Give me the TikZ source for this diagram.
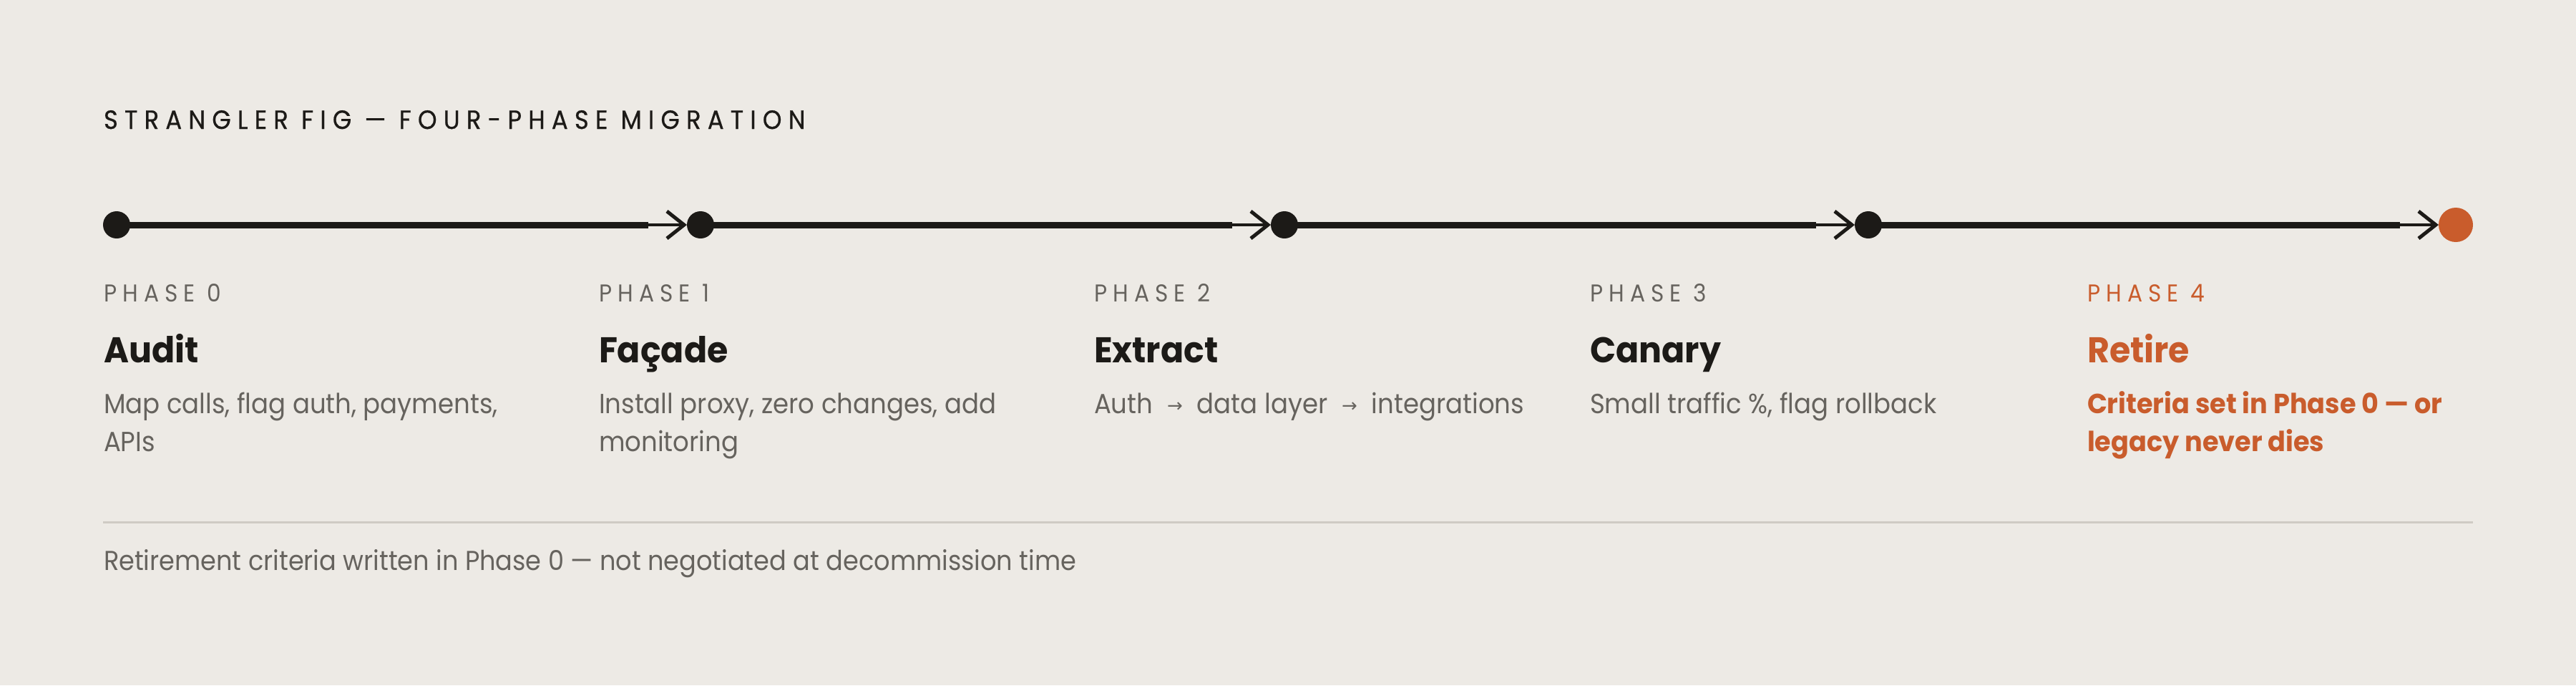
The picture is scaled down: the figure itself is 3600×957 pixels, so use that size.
\documentclass[tikz,border=0pt]{standalone}
\usepackage{fontspec}
\setmainfont{Poppins}[FakeStretch=0.92, BoldFeatures={FakeStretch=0.95}]
\newfontfamily\capsfont{Poppins}[FakeStretch=0.92, LetterSpace=24]
\newfontfamily\titlefont{Poppins}[FakeStretch=0.92, LetterSpace=25, FakeBold=0.6]
\newfontfamily\symfont{DejaVu Sans}
\usetikzlibrary{arrows.meta}
\definecolor{bg}{HTML}{EDEAE5}
\definecolor{ink}{HTML}{1C1A17}
\definecolor{muted}{HTML}{66635E}
\definecolor{accent}{HTML}{C95C2C}
\definecolor{rulec}{HTML}{CFCBC4}
\newcommand{\smallarrow}{\kern2.6pt{\symfont\fontsize{6.5pt}{6.5pt}\selectfont\raisebox{0.4pt}{→}}\kern2.6pt}
\tikzset{
  txt/.style={anchor=base west, inner sep=0pt, outer sep=0pt},
  titletext/.style={txt, text=ink, font=\titlefont\fontsize{9.2pt}{11pt}\selectfont},
  phaselbl/.style={txt, text=muted, font=\capsfont\fontsize{8.5pt}{10pt}\selectfont},
  phasename/.style={txt, text=ink, font=\bfseries\fontsize{12.5pt}{14pt}\selectfont},
  desc/.style={txt, text=muted, font=\fontsize{9.65pt}{13.25pt}\selectfont},
  footertext/.style={txt, text=muted, font=\fontsize{9.55pt}{11pt}\selectfont},
  dot/.style={circle, fill=ink, minimum size=9.5pt, inner sep=0pt, outer sep=0pt},
  enddot/.style={circle, fill=accent, minimum size=12pt, inner sep=0pt, outer sep=0pt},
  track/.style={draw=ink, line width=2.25pt},
  lead/.style={draw=ink, line width=1.05pt, -{Straight Barb[length=6pt,width=9.5pt,line width=1.25pt]}},
}
\begin{document}
\begin{tikzpicture}[x=0.25pt,y=-0.25pt]
\fill[bg] (0,0) rectangle (3600,957);
\useasboundingbox (0,0) rectangle (3600,957);

\node[titletext] (title) at (145,180) {STRANGLER FIG — FOUR-PHASE MIGRATION};

% timeline dots
\node[dot] (d0) at (163,314) {};
\node[dot] (d1) at (979,314) {};
\node[dot] (d2) at (1795,314) {};
\node[dot] (d3) at (2611,314) {};
\node[enddot] (d4) at (3432,314) {};

\foreach \a/\b in {d0/d1,d1/d2,d2/d3,d3/d4}{
  \path (\b.west) ++(-54,0) coordinate (k\b);
  \draw[track] (\a.center) -- (k\b);
  \draw[lead] (k\b) -- (\b.west);
}

% phase columns
\node[phaselbl] (p0) at (145,421) {PHASE 0};
\node[phaselbl] (p1) at (837,421) {PHASE 1};
\node[phaselbl] (p2) at (1529,421) {PHASE 2};
\node[phaselbl] (p3) at (2222,421) {PHASE 3};
\node[phaselbl, text=accent] (p4) at (2917,421) {PHASE 4};

\node[phasename] (n0) at (145,506) {Audit};
\node[phasename] (n1) at (837,506) {Façade};
\node[phasename] (n2) at (1529,506) {Extract};
\node[phasename] (n3) at (2222,506) {Canary};
\node[phasename, text=accent] (n4) at (2917,506) {Retire};

\node[desc] (t0) at (145,577) {\parbox[t]{200pt}{\raggedright Map calls, flag auth, payments,\\APIs}};
\node[desc] (t1) at (837,577) {\parbox[t]{200pt}{\raggedright Install proxy, zero changes, add\\monitoring}};
\node[desc] (t2) at (1529,577) {Auth \smallarrow{} data layer \smallarrow{} integrations};
\node[desc] (t3) at (2222,577) {Small traffic \%, flag rollback};
\node[desc, text=accent, font=\bfseries\fontsize{9.65pt}{13.25pt}\selectfont] (t4) at (2917,577) {\parbox[t]{200pt}{\raggedright Criteria set in Phase 0 — or\\legacy never dies}};

% rule and footer
\coordinate (r0) at (144,729);
\coordinate (r1) at (3456,729);
\draw[rulec, line width=0.75pt] (r0) -- (r1);
\node[footertext] (foot) at (145,796) {Retirement criteria written in Phase 0 — not negotiated at decommission time};
\end{tikzpicture}
\end{document}
